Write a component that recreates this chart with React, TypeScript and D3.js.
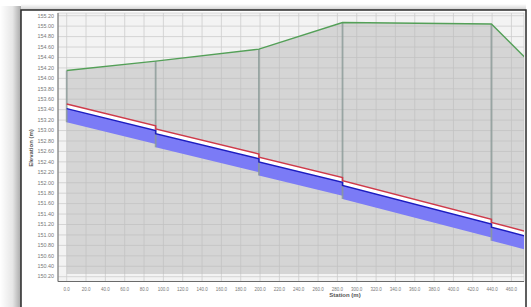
import React, { useRef, useEffect } from 'react';
import { select, scaleLinear, line, area } from "d3";

// manhole stations (m)
const manholes = [0, 92, 198.8, 285.3, 439.3];

// ground surface
const groundStation = [0, 92, 198.8, 285.3, 439.3, 480];
const groundElev = [154.15, 154.33, 154.56, 155.07, 155.04, 154.29];

// pipe segments: crown elevation at upstream / downstream end
const pipeStart = [0, 92, 198.8, 285.3, 439.3];
const pipeEnd = [92, 198.8, 285.3, 439.3, 480];
const crownUp = [153.51, 153.03, 152.49, 152.04, 151.24];
const crownDown = [153.09, 152.55, 152.10, 151.30, 151.04];

const xTicks = [0, 20, 40, 60, 80, 100, 120, 140, 160, 180, 200, 220, 240, 260, 280, 300, 320, 340, 360, 380, 400, 420, 440, 460];
const yTicks = [150.2, 150.4, 150.6, 150.8, 151.0, 151.2, 151.4, 151.6, 151.8, 152.0, 152.2, 152.4, 152.6, 152.8, 153.0, 153.2, 153.4, 153.6, 153.8, 154.0, 154.2, 154.4, 154.6, 154.8, 155.0, 155.2];

const innerOffset = 0.09; // crown -> invert line
const bedOffset = 0.35;   // crown -> bottom of blue band
const fillBase = 150.25;

function App() {
  const rootRef = useRef<SVGSVGElement>(null);
  const width = 531;
  const height = 307;
  const plot = { left: 58, right: 524, top: 13, bottom: 281.5 };

  useEffect(() => {
    const root = select(rootRef.current);
    root.selectAll('*').remove();

    const xScale = scaleLinear().domain([-9, 473]).range([plot.left, plot.right]);
    const yScale = scaleLinear().domain([150.108, 155.252]).range([plot.bottom, plot.top]);

    const defs = root.append('defs');
    const grad = defs.append('linearGradient').attr('id', 'shadowL').attr('x1', '0').attr('x2', '1');
    grad.append('stop').attr('offset', '0').attr('stop-color', '#ffffff');
    grad.append('stop').attr('offset', '0.6').attr('stop-color', '#e6e6e6');
    grad.append('stop').attr('offset', '1').attr('stop-color', '#a8a8a8');
    const gradT = defs.append('linearGradient').attr('id', 'shadowT').attr('x1', '0').attr('x2', '0').attr('y1', '0').attr('y2', '1');
    gradT.append('stop').attr('offset', '0').attr('stop-color', '#ffffff');
    gradT.append('stop').attr('offset', '1').attr('stop-color', '#cfcfcf');
    defs.append('clipPath').attr('id', 'plotClip').append('rect')
      .attr('x', plot.left).attr('y', plot.top)
      .attr('width', plot.right - plot.left).attr('height', plot.bottom - plot.top);

    // page + window frame
    root.append('rect').attr('width', width).attr('height', height).attr('fill', '#ffffff');
    root.append('rect').attr('x', 0).attr('y', 6).attr('width', 21).attr('height', height).attr('fill', 'url(#shadowL)');
    root.append('rect').attr('x', 21).attr('y', 4).attr('width', 505).attr('height', 6).attr('fill', 'url(#shadowT)');
    root.append('rect').attr('x', 21).attr('y', 10).attr('width', 505).attr('height', height)
      .attr('fill', '#ffffff').attr('stroke', '#2a2a2a').attr('stroke-width', 1.5);

    // plot background + grid
    root.append('rect').attr('x', plot.left).attr('y', plot.top)
      .attr('width', plot.right - plot.left).attr('height', plot.bottom - plot.top)
      .attr('fill', '#f3f3f3').attr('stroke', '#cfcfcf').attr('stroke-width', 0.8);

    const g = root.append('g').attr('clip-path', 'url(#plotClip)');

    g.selectAll('.vgrid').data(xTicks).enter().append('line')
      .attr('x1', d => xScale(d)).attr('x2', d => xScale(d))
      .attr('y1', plot.top).attr('y2', plot.bottom)
      .attr('stroke', '#cdcdcd').attr('stroke-width', 0.8);
    g.selectAll('.hgrid').data(yTicks).enter().append('line')
      .attr('x1', plot.left).attr('x2', plot.right)
      .attr('y1', d => yScale(d)).attr('y2', d => yScale(d))
      .attr('stroke', '#cdcdcd').attr('stroke-width', 0.8);

    // gray ground fill
    const groundPts = groundStation.map((s, i) => [s, groundElev[i]] as [number, number]);
    const groundArea = area<[number, number]>()
      .x(d => xScale(d[0])).y0(yScale(fillBase)).y1(d => yScale(d[1]));
    g.append('path').datum(groundPts).attr('d', groundArea)
      .attr('fill', '#b8b8b8').attr('opacity', 0.5);

    // pipe profile points
    const crownPts: [number, number][] = [];
    pipeStart.forEach((s, i) => {
      crownPts.push([s, crownUp[i]]);
      crownPts.push([pipeEnd[i], crownDown[i]]);
    });

    const band = (top: number, bot: number) => area<[number, number]>()
      .x(d => xScale(d[0])).y0(d => yScale(d[1] - bot)).y1(d => yScale(d[1] - top));

    g.append('path').datum(crownPts).attr('d', band(innerOffset, bedOffset))
      .attr('fill', '#7b7bf6');
    g.append('path').datum(crownPts).attr('d', band(0, innerOffset))
      .attr('fill', '#ffffff');

    // manhole lines
    g.selectAll('.mh').data(manholes).enter().append('line')
      .attr('x1', d => xScale(d)).attr('x2', d => xScale(d))
      .attr('y1', d => yScale(groundElev[groundStation.indexOf(d)]))
      .attr('y2', (d, i) => yScale(crownUp[i] - bedOffset))
      .attr('stroke', '#8a9a97').attr('stroke-width', 1.8).attr('opacity', 0.8);

    const pline = (off: number) => line<[number, number]>()
      .x(d => xScale(d[0])).y(d => yScale(d[1] - off));

    g.append('path').datum(crownPts).attr('d', pline(innerOffset))
      .attr('fill', 'none').attr('stroke', '#1c1cc0').attr('stroke-width', 1.5);
    g.append('path').datum(crownPts).attr('d', pline(0))
      .attr('fill', 'none').attr('stroke', '#cf3a4a').attr('stroke-width', 1.5);

    const groundLine = line<[number, number]>().x(d => xScale(d[0])).y(d => yScale(d[1]));
    g.append('path').datum(groundPts).attr('d', groundLine)
      .attr('fill', 'none').attr('stroke', '#54a058').attr('stroke-width', 1.4);

    // axes
    root.append('line').attr('x1', plot.left).attr('x2', plot.left)
      .attr('y1', plot.top).attr('y2', plot.bottom).attr('stroke', '#6a6a6a').attr('stroke-width', 1);
    root.append('line').attr('x1', plot.left).attr('x2', plot.right)
      .attr('y1', plot.bottom).attr('y2', plot.bottom).attr('stroke', '#6a6a6a').attr('stroke-width', 1);

    root.selectAll('.ylab').data(yTicks).enter().append('text')
      .attr('x', 54).attr('y', d => yScale(d) + 1.8)
      .attr('text-anchor', 'end')
      .style('font-family', 'Liberation Sans, Arial, sans-serif').style('font-size', '5.4px')
      .attr('fill', '#787878')
      .text(d => d.toFixed(2));

    root.selectAll('.xlab').data(xTicks).enter().append('text')
      .attr('x', d => xScale(d)).attr('y', 290.5)
      .attr('text-anchor', 'middle')
      .style('font-family', 'Liberation Sans, Arial, sans-serif').style('font-size', '4.5px')
      .attr('fill', '#787878')
      .text(d => d.toFixed(1));

    root.append('text').attr('x', 345).attr('y', 297)
      .attr('text-anchor', 'middle')
      .style('font-family', 'Liberation Sans, Arial, sans-serif').style('font-size', '6px').style('font-weight', 'bold')
      .attr('fill', '#555')
      .text('Station (m)');

    root.append('text').attr('transform', 'translate(33,148) rotate(-90)')
      .attr('text-anchor', 'middle')
      .style('font-family', 'Liberation Sans, Arial, sans-serif').style('font-size', '6px').style('font-weight', 'bold')
      .attr('fill', '#555')
      .text('Elevation (m)');
  });

  return (
    <div style={{ position: 'fixed', left: 0, top: 0 }}>
      <svg width={width} height={height} ref={rootRef} style={{ display: 'block' }}></svg>
    </div>
  );
}

export default App;
